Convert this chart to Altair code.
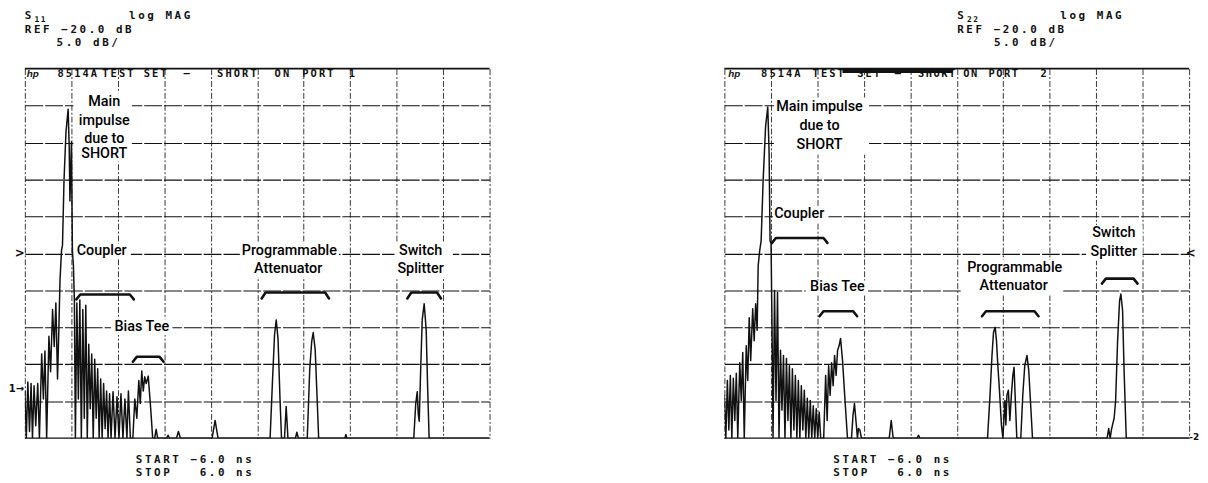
import altair as alt
import pandas as pd

# ---------------- data: time-domain traces (ns, dB) ----------------
T1 = [-6.000, -5.962, -5.923, -5.880, -5.839, -5.803, -5.762, -5.719, -5.667, -5.624,
      -5.565, -5.521, -5.481, -5.437, -5.378, -5.335, -5.284, -5.241, -5.199, -5.156,
      -5.122, -5.092, -5.053, -5.028, -4.989, -4.938, -4.882, -4.854, -4.836, -4.797,
      -4.772, -4.746, -4.721, -4.695,
      -4.657, -4.618, -4.580, -4.541, -4.503, -4.465, -4.426, -4.388, -4.350, -4.311,
      -4.273, -4.234, -4.196, -4.158, -4.119, -4.081, -4.042, -4.004, -3.966, -3.927,
      -3.889, -3.851, -3.812, -3.774, -3.723, -3.671, -3.620, -3.569, -3.518, -3.467,
      -3.416, -3.364, -3.326, -3.275,
      -3.211, -3.160, -3.109, -3.057, -3.019, -2.981, -2.942, -2.904, -2.866, -2.814,
      -2.750, -2.699, -2.648, -2.610, -2.571, -2.341, -2.302, -2.264, -2.085, -2.034,
      -1.983, -1.164, -1.087, -1.011,
      0.333, 0.397, 0.448, 0.492, 0.538, 0.589, 0.628, 0.705, 0.748, 0.794,
      0.986, 1.024, 1.062, 1.293, 1.357, 1.408, 1.446, 1.497, 1.548, 1.587,
      2.265, 2.290, 2.316,
      4.043, 4.094, 4.133, 4.158, 4.184, 4.222, 4.261, 4.312, 4.363, 4.402, 4.440, 6.000]
M1 = [-38.6, -45, -37.4, -44.1, -37.6, -45, -37.9, -43.3, -37.6, -45,
      -33.6, -39.7, -33.2, -45, -31.2, -36.0, -27.6, -32.6, -26.7, -37.0,
      -30.3, -23.6, -19.6, -18.9, -10.2, -3.6, -0.5, -5.7, -12.9, -4.9,
      -19.6, -21.6, -26.3, -45,
      -26.7, -39.7, -26.3, -45, -27.6, -42.3, -27.0, -45, -32.3, -41.0,
      -33.6, -45, -34.3, -42.3, -35.6, -45, -37.0, -45, -37.6, -43.7,
      -38.6, -45, -39.0, -45, -38.7, -45, -39.4, -45, -39.0, -45,
      -39.7, -45, -38.6, -45,
      -45, -39.7, -42.3, -37.2, -40.3, -35.9, -38.6, -36.7, -37.6, -36.6,
      -41.0, -45, -45, -43.8, -45, -45, -44.6, -45, -45, -44.1,
      -45, -45, -42.6, -45,
      -45, -37.0, -31.0, -29.0, -31.6, -39.7, -45, -45, -40.7, -45,
      -45, -44.2, -45, -45, -35.6, -31.9, -30.7, -33.0, -39.7, -45,
      -45, -44.5, -45,
      -45, -40.3, -38.7, -41.7, -42.7, -35.6, -29.0, -26.8, -30.3, -38.3, -45, -45]

T2 = [-6.000, -5.962, -5.923, -5.885, -5.846, -5.808, -5.769, -5.731, -5.692, -5.654,
      -5.603, -5.564, -5.526, -5.487, -5.436, -5.397, -5.359, -5.321, -5.269, -5.231,
      -5.192, -5.154, -5.128, -5.090, -5.051, -5.000, -4.936, -4.880, -4.846, -4.821,
      -4.795, -4.769, -4.744,
      -4.705, -4.667, -4.628, -4.590, -4.551, -4.513, -4.474, -4.436, -4.397, -4.359,
      -4.321, -4.282, -4.244, -4.205, -4.167, -4.128, -4.090, -4.051, -4.013, -3.974,
      -3.936, -3.897, -3.859, -3.821, -3.782, -3.744, -3.705, -3.667, -3.628, -3.590,
      -3.551, -3.513,
      -3.436, -3.385, -3.346, -3.308, -3.269, -3.231, -3.192, -3.154, -3.115, -3.077,
      -3.038, -3.000, -2.949, -2.885, -2.821, -2.718, -2.679, -2.641, -2.603, -2.564,
      -2.538, -2.500, -2.462, -1.744, -1.692, -1.641, -1.026, -0.987, -0.949,
      0.795, 0.859, 0.910, 0.949, 0.992, 1.026, 1.064, 1.103, 1.154, 1.192,
      1.244, 1.269, 1.295, 1.333, 1.372, 1.410, 1.449, 1.480, 1.513, 1.551,
      1.654, 1.705, 1.756, 1.813, 1.859, 1.910, 1.956,
      3.884, 3.923, 3.962, 4.000, 4.064, 4.103, 4.154, 4.205, 4.238, 4.282,
      4.321, 4.377, 6.000]
M2 = [-39.2, -45, -37.2, -43.9, -36.5, -45, -36.9, -42.6, -36.2, -45,
      -34.8, -39.9, -33.4, -45, -32.5, -37.2, -28.7, -34.5, -27.5, -31.8,
      -26.8, -30.4, -21.7, -19.7, -18.3, -10.2, -2.8, -0.2, -6.2, -18.3,
      -18.6, -30.4, -45,
      -25.0, -39.9, -25.3, -45, -33.1, -41.2, -33.8, -45, -34.2, -42.6,
      -35.2, -45, -35.6, -43.9, -36.5, -45, -37.2, -45, -37.9, -43.9,
      -38.5, -45, -39.6, -45, -39.9, -45, -40.6, -45, -41.0, -45,
      -41.5, -45,
      -45, -36.5, -42.6, -35.2, -39.2, -34.8, -37.9, -33.8, -36.5, -33.1,
      -32.5, -31.5, -34.5, -39.9, -45, -45, -41.9, -40.3, -42.6, -45,
      -43.7, -43.9, -45, -45, -42.6, -45, -45, -44.6, -45,
      -45, -39.2, -33.8, -30.7, -30.0, -31.8, -35.4, -38.5, -43.2, -45,
      -39.9, -43.2, -39.2, -38.5, -42.6, -39.2, -36.5, -35.4, -39.9, -45,
      -45, -39.2, -35.2, -33.8, -35.8, -40.6, -45,
      -45, -43.7, -45, -43.7, -42.3, -39.9, -31.8, -26.4, -25.5, -27.7,
      -35.8, -45, -45]

# graticule: 1.2 ns/div, 5 dB/div, REF -20 dB at centre
XGRID = [-6, -4.8, -3.6, -2.4, -1.2, 0, 1.2, 2.4, 3.6, 4.8, 6]
YGRID = [-40, -35, -30, -25, -20, -15, -10, -5, 0]

# annotation labels (text, ns, dB)
LABELS1 = [("Main", -3.95, 0.44), ("impulse", -3.95, -2.1), ("due to", -3.95, -4.5),
           ("SHORT", -3.95, -6.5), ("Coupler", -4.017, -19.66),
           ("Programmable", 0.83, -19.66), ("Attenuator", 0.80, -22.07),
           ("Switch", 4.22, -19.66), ("Splitter", 4.22, -22.07),
           ("Bias Tee", -2.98, -29.97)]
LABELS2 = [("Main impulse", -3.544, -0.23), ("due to", -3.544, -2.77),
           ("SHORT", -3.544, -5.32), ("Coupler", -4.068, -14.70),
           ("Switch", 4.055, -17.24), ("Splitter", 4.055, -19.79),
           ("Programmable", 1.497, -21.93), ("Attenuator", 1.471, -24.48),
           ("Bias Tee", -3.083, -24.61)]

# blank areas behind the labels (ns, ns, dB, dB)
BOXES1 = [(-4.746, -3.237, 1.78, -7.60), (-4.772, -3.262, -18.72, -20.73),
          (-0.448, 2.111, -18.58, -23.27), (3.544, 5.053, -18.58, -23.27),
          (-3.774, -2.188, -28.90, -31.05)]
BOXES2 = [(-4.721, -2.264, 1.11, -6.66), (-4.746, -3.313, -13.63, -15.77),
          (3.339, 4.797, -16.17, -21.0), (0.141, 2.750, -20.86, -25.69),
          (-3.902, -2.290, -23.68, -25.69)]

# brackets (ns, dB)
BRACKETS1 = [[(-4.670, -26.22), (-4.567, -25.55), (-3.288, -25.55), (-3.186, -26.22)],
             [(0.115, -26.09), (0.217, -25.28), (1.753, -25.28), (1.855, -26.09)],
             [(3.876, -26.09), (3.979, -25.28), (4.644, -25.28), (4.746, -26.09)],
             [(-3.211, -34.66), (-3.109, -33.99), (-2.520, -33.99), (-2.418, -34.66)]]
BRACKETS2 = [[(-4.772, -18.58), (-4.670, -17.91), (-3.441, -17.91), (-3.339, -18.58)],
             [(3.748, -24.08), (3.850, -23.41), (4.567, -23.41), (4.669, -24.08)],
             [(-3.544, -28.5), (-3.441, -27.83), (-2.674, -27.83), (-2.571, -28.5)],
             [(0.652, -28.5), (0.755, -27.83), (2.008, -27.83), (2.111, -28.5)]]

# plotter text (text, start ns, dB, font size, char pitch ns)
HP_PITCH = 0.2354
TP = 0.215
PLOT1 = [("S", -6.0, 12.1, 11, HP_PITCH), ("11", -5.75, 11.6, 8, 0.16),
         ("log MAG", -3.31, 12.1, 11, HP_PITCH),
         ("REF −20.0 dB", -6.0, 10.2, 11, HP_PITCH),
         ("5.0 dB/", -5.18, 8.45, 11, HP_PITCH),
         ("START −6.0 ns", -3.134, -48.0, 11, HP_PITCH),
         ("STOP   6.0 ns", -3.134, -49.7, 11, HP_PITCH),
         ("8514A", -5.156, 4.33, 10.5, TP), ("TEST", -4.0, 4.33, 10.5, TP),
         ("SET", -2.930, 4.33, 10.5, TP), ("–", -1.906, 4.33, 10.5, TP),
         ("SHORT", -1.036, 4.33, 10.5, TP), ("ON", 0.448, 4.33, 10.5, TP),
         ("PORT", 1.164, 4.33, 10.5, TP), ("1", 2.367, 4.33, 10.5, TP)]
PLOT2 = [("S", 0.013, 12.1, 11, HP_PITCH), ("22", 0.263, 11.6, 8, 0.16),
         ("log MAG", 2.674, 12.1, 11, HP_PITCH),
         ("REF −20.0 dB", 0.013, 10.2, 11, HP_PITCH),
         ("5.0 dB/", 0.959, 8.45, 11, HP_PITCH),
         ("START −6.0 ns", -3.186, -48.0, 11, HP_PITCH),
         ("STOP   6.0 ns", -3.186, -49.7, 11, HP_PITCH),
         ("8514A", -5.053, 4.33, 10.5, TP), ("TEST", -3.723, 4.33, 10.5, TP),
         ("SET", -2.57, 4.33, 10.5, TP), ("–", -1.60, 4.33, 10.5, TP),
         ("SHORT", -1.0, 4.33, 10.5, 0.2), ("ON", 0.17, 4.33, 10.5, 0.2),
         ("PORT", 0.82, 4.33, 10.5, 0.2), ("2", 2.162, 4.33, 10.5, TP)]

HP1 = [("hp", -5.95, 4.33)]
HP2 = [("hp", -5.90, 4.33)]

MARKERS1 = [(">", -6.13, -19.9, 12), ("1→", -6.22, -38.4, 10)]
MARKERS2 = [("<", 6.04, -19.9, 12), ("-2", 6.13, -44.8, 9)]

BARS2 = [(-2.95, -0.10, 4.73)]   # heavy pen stroke across the right title

# ---------------- chart ----------------
W, H = 469, 373
INK = "#111111"

xs = alt.Scale(domain=[-6, 6], nice=False, zero=False)
ys = alt.Scale(domain=[-45, 5], nice=False, zero=False)
xax = alt.Axis(values=XGRID, grid=True, labels=False, ticks=False, domain=False,
               title=None, gridColor="#222222", gridDash=[6, 2, 2, 2], gridWidth=0.9)
yax = alt.Axis(values=YGRID, grid=True, labels=False, ticks=False, domain=False,
               title=None, gridColor="#111111", gridDash=[18, 2], gridWidth=1.1)
X = alt.X("t:Q", scale=xs, axis=xax)
Y = alt.Y("db:Q", scale=ys, axis=yax)


def chars(items):
    rows = []
    for text, t0, db, fs, pitch in items:
        for i, ch in enumerate(text):
            if ch != " ":
                rows.append({"t": t0 + i * pitch, "db": db, "ch": ch, "fs": fs})
    return pd.DataFrame(rows)


def panel(T, M, labels, boxes, brackets, plot_items, hp, markers, bars):
    layers = []
    box_df = pd.DataFrame(boxes, columns=["t", "t2", "db", "db2"])
    layers.append(alt.Chart(box_df).mark_rect(color="white").encode(
        x=X, x2="t2", y=Y, y2="db2"))
    layers.append(alt.Chart(pd.DataFrame({"db": [5]})).mark_rule(
        color=INK, strokeWidth=1.8).encode(y=Y))
    layers.append(alt.Chart(pd.DataFrame({"db": [-45]})).mark_rule(
        color=INK, strokeWidth=1.2).encode(y=Y))
    if bars:
        bar_df = pd.DataFrame(bars, columns=["t", "t2", "db"])
        layers.append(alt.Chart(bar_df).mark_rule(color=INK, strokeWidth=5).encode(
            x=X, x2="t2", y=Y))
    trace = pd.DataFrame({"t": T, "db": M})
    layers.append(alt.Chart(trace).mark_line(color=INK, strokeWidth=1.5, clip=True,
                                            strokeJoin="round").encode(x=X, y=Y))
    br_rows = []
    for g, pts in enumerate(brackets):
        for o, (t, db) in enumerate(pts):
            br_rows.append({"t": t, "db": db, "g": g, "o": o})
    layers.append(alt.Chart(pd.DataFrame(br_rows)).mark_line(
        color=INK, strokeWidth=2.6, strokeCap="round", strokeJoin="round").encode(
        x=X, y=Y, detail="g:N", order="o:Q"))
    layers.append(alt.Chart(chars(plot_items)).mark_text(
        font="DejaVu Sans Mono", fontWeight="bold", align="left", baseline="middle",
        color=INK).encode(x=X, y=Y, text="ch:N",
                          size=alt.Size("fs:Q", scale=None, legend=None)))
    layers.append(alt.Chart(pd.DataFrame(hp, columns=["txt", "t", "db"])).mark_text(
        font="Liberation Sans", fontStyle="italic", fontWeight="bold", fontSize=10,
        align="left", baseline="middle", color=INK).encode(x=X, y=Y, text="txt:N"))
    layers.append(alt.Chart(pd.DataFrame(labels, columns=["txt", "t", "db"])).mark_text(
        font="Roboto", fontWeight=500, fontSize=14.5, align="center", baseline="middle",
        color="#000000").encode(x=X, y=Y, text="txt:N"))
    layers.append(alt.Chart(pd.DataFrame(markers, columns=["txt", "t", "db", "fs"])).mark_text(
        font="DejaVu Sans", fontWeight="bold", align="center", baseline="middle",
        color=INK).encode(x=X, y=Y, text="txt:N",
                          size=alt.Size("fs:Q", scale=None, legend=None)))
    return alt.layer(*layers).properties(width=W, height=H)


left = panel(T1, M1, LABELS1, BOXES1, BRACKETS1, PLOT1, HP1, MARKERS1, [])
right = panel(T2, M2, LABELS2, BOXES2, BRACKETS2, PLOT2, HP2, MARKERS2, BARS2)

chart = alt.hconcat(left, right, spacing=235).properties(
    padding={"left": 0, "top": 0, "right": 0, "bottom": 0},
    background="white",
).configure_view(stroke=None)

chart.save("out.html", embed_options={"renderer": "svg", "actions": False})
